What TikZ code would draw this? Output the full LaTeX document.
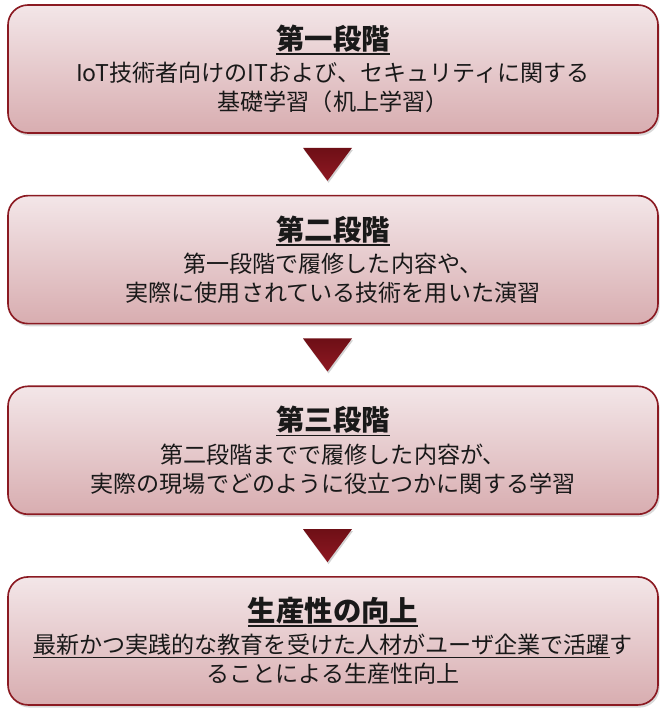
\documentclass[tikz,border=0pt]{standalone}
\usepackage{fontspec}
\setmainfont{Noto Sans CJK JP}
\usetikzlibrary{positioning,shadows}

\definecolor{boxtop}{HTML}{F3E6E8}
\definecolor{boxbottom}{HTML}{D8ADB0}
\definecolor{boxline}{HTML}{8B1A22}
\definecolor{arrowred}{HTML}{8E1822}
\definecolor{arrowdark}{HTML}{6E0F16}

% underline with a given thickness and drop
\newcommand{\stageline}[3]{\setbox0\hbox{#3}\leavevmode\rlap{\rule[-#2]{\wd0}{#1}}\box0}
\newcommand{\stagetitle}[1]{{\fontsize{24.2}{28}\selectfont\bfseries\stageline{1.4pt}{4.6pt}{#1}}\\[3pt]}

\tikzset{
    stagebox/.style={draw=boxline, line width=1.4pt, rounded corners=0.6cm,
        top color=boxtop, bottom color=boxbottom,
        minimum width=19.5cm, minimum height=3.84cm, align=center,
        text=black!90, font=\fontsize{19.7}{24.7}\selectfont,
        drop shadow={shadow xshift=0.05cm, shadow yshift=-0.08cm, opacity=0.3}},
    downarrow/.style={top color=arrowdark, bottom color=arrowred, draw=none,
        drop shadow={shadow xshift=0.03cm, shadow yshift=-0.06cm, opacity=0.35}}
}

\begin{document}
\begin{tikzpicture}
    \useasboundingbox (0,0) rectangle (19.98,-21.39);
    % draw stage boxes
    \node[stagebox] (s1) at (9.99,-2.07) {\stagetitle{第一段階}
        IoT技術者向けのITおよび、セキュリティに関する\\
        基礎学習（机上学習）};
    \node[stagebox, below=1.83cm of s1] (s2) {\stagetitle{第二段階}
        第一段階で履修した内容や、\\
        実際に使用されている技術を用いた演習};
    \node[stagebox, below=1.83cm of s2] (s3) {\stagetitle{第三段階}
        第二段階までで履修した内容が、\\
        実際の現場でどのように役立つかに関する学習};
    \node[stagebox, below=1.83cm of s3] (s4) {\stagetitle{生産性の向上}
        \stageline{1.1pt}{3.6pt}{最新かつ実践的な教育を受けた人材がユーザ企業で活躍}す\\
        ることによる生産性向上};
    % draw down arrows
    \foreach \a/\b in {s1/t1, s2/t2, s3/t3} {
        \coordinate[below=0.42cm of \a.south, xshift=-0.165cm] (\b);
        \path[downarrow] (\b) ++(-0.735,0) -- ++(1.47,0) -- ++(-0.735,-0.99) -- cycle;
    }
\end{tikzpicture}
\end{document}
